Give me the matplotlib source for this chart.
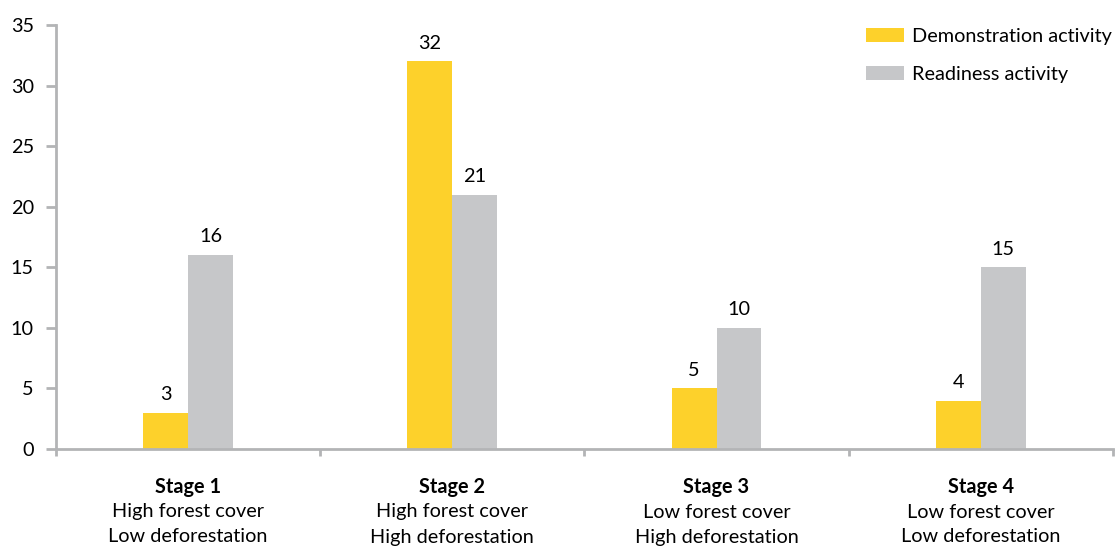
import numpy as np
import matplotlib
matplotlib.use("Agg")
import matplotlib.pyplot as plt
from matplotlib.transforms import blended_transform_factory

plt.rcParams['font.family'] = ['Lato', 'DejaVu Sans']

stages = ["Stage 1", "Stage 2", "Stage 3", "Stage 4"]
cover = ["High forest cover", "High forest cover", "Low forest cover", "Low forest cover"]
deforest = ["Low deforestation", "High deforestation", "High deforestation", "Low deforestation"]
demonstration = [3, 32, 5, 4]
readiness = [16, 21, 10, 15]

yellow = '#FDD12B'
grey = '#C6C7C9'
axis_grey = '#B3B4B6'
fs = 14.3

fig = plt.figure(figsize=(11.16, 5.46), dpi=100)
ax = fig.add_axes([0.0502, 0.1777, 0.947, 0.7765])

x = np.arange(len(stages))
w = 0.17
b1 = ax.bar(x - w / 2, demonstration, w, color=yellow, label='Demonstration activity')
b2 = ax.bar(x + w / 2, readiness, w, color=grey, label='Readiness activity')

# value labels above each bar
for bars, vals in [(b1, demonstration), (b2, readiness)]:
    for bar, v in zip(bars, vals):
        ax.annotate(str(v), (bar.get_x() + bar.get_width() / 2, v),
                    xytext=(0, 7), textcoords='offset points',
                    ha='center', va='bottom', fontsize=fs)

ax.set_xlim(-0.5, len(stages) - 0.5)
ax.set_ylim(0, 35)
ax.set_yticks(range(0, 36, 5))
ax.set_xticks(np.arange(len(stages) + 1) - 0.5)
ax.set_xticklabels([])

for s in ['top', 'right']:
    ax.spines[s].set_visible(False)
for s in ['left', 'bottom']:
    ax.spines[s].set_color(axis_grey)
    ax.spines[s].set_linewidth(2)
ax.tick_params(axis='y', length=7, width=2, color=axis_grey, labelsize=fs, pad=9)
ax.tick_params(axis='x', length=5, width=2, color=axis_grey)

# three-line category labels, stage name in bold
trans = blended_transform_factory(ax.transData, fig.transFigure)
for i in range(len(stages)):
    ax.text(i, 1 - 487 / 546, stages[i], transform=trans, ha='center', va='center',
            fontsize=fs, fontweight='bold')
    ax.text(i, 1 - 512 / 546, cover[i], transform=trans, ha='center', va='center',
            fontsize=fs)
    ax.text(i, 1 - 537 / 546, deforest[i], transform=trans, ha='center', va='center',
            fontsize=fs)

ax.legend(loc='upper left', bbox_to_anchor=(866 / 1116, 1 - 28 / 546),
          bbox_transform=fig.transFigure, frameon=False, fontsize=fs,
          borderpad=0, borderaxespad=0, handlelength=1.92, handleheight=0.72,
          handletextpad=0.4, labelspacing=1.05)

fig.savefig('out.png', dpi=100)
